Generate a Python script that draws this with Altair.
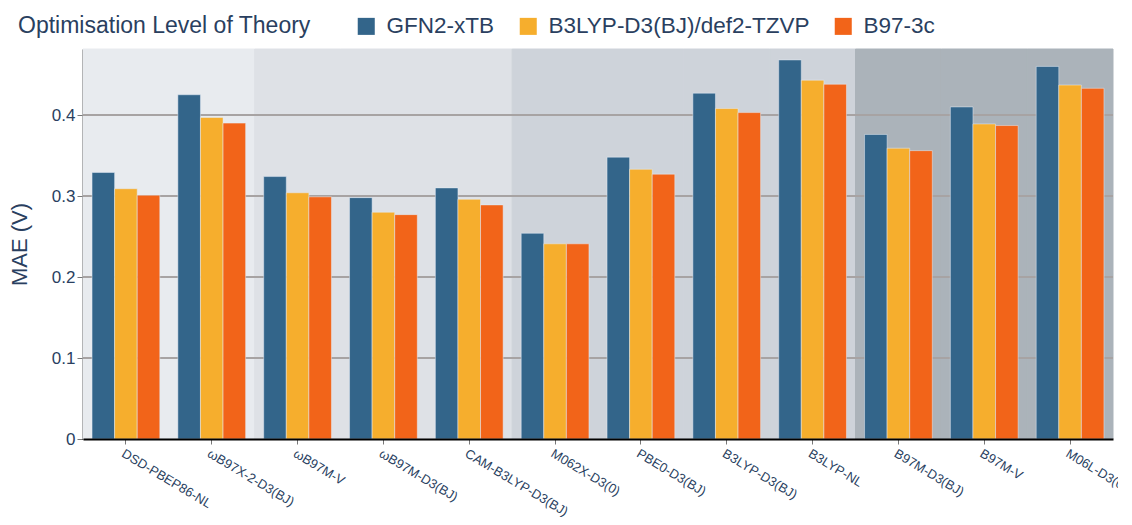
import altair as alt
import pandas as pd

categories = ["DSD-PBEP86-NL", "ωB97X-2-D3(BJ)", "ωB97M-V", "ωB97M-D3(BJ)",
              "CAM-B3LYP-D3(BJ)", "M062X-D3(0)", "PBE0-D3(BJ)", "B3LYP-D3(BJ)",
              "B3LYP-NL", "B97M-D3(BJ)", "B97M-V", "M06L-D3(0)"]
series = ["GFN2-xTB", "B3LYP-D3(BJ)/def2-TZVP", "B97-3c"]
gfn2 = [0.329, 0.425, 0.324, 0.298, 0.310, 0.254, 0.348, 0.427, 0.468, 0.376, 0.410, 0.460]
b3lyp = [0.309, 0.397, 0.304, 0.280, 0.296, 0.241, 0.333, 0.408, 0.443, 0.359, 0.389, 0.437]
b973c = [0.301, 0.390, 0.299, 0.277, 0.289, 0.241, 0.327, 0.403, 0.438, 0.356, 0.387, 0.433]
colors = ["#33658a", "#f6ae2d", "#f26419"]

# background shading group of each category
band_group = [0, 0, 1, 1, 1, 2, 2, 2, 2, 3, 3, 3]
band_colors = ["#e8ebef", "#dee1e6", "#ced3da", "#abb3ba"]
grid_values = [0.1, 0.2, 0.3, 0.4]
y_ticks = [0, 0.1, 0.2, 0.3, 0.4]
y_max = 0.4815

TEXT = "#2a3f5f"
FONT = "Liberation Sans"

rows = []
for name, vals in zip(series, [gfn2, b3lyp, b973c]):
    for c, v in zip(categories, vals):
        rows.append({"category": c, "series": name, "mae": v})
df = pd.DataFrame(rows)

bands = pd.DataFrame({"category": categories,
                      "fill": [band_colors[g] for g in band_group],
                      "top": [y_max] * len(categories),
                      "bottom": [0.0] * len(categories)})
grid = pd.DataFrame({"v": grid_values})

xscale = alt.Scale(domain=categories, paddingInner=0, paddingOuter=0)
yscale = alt.Scale(domain=[0, y_max], nice=False, zero=True)

xaxis = alt.Axis(labelAngle=31, labelAlign="left", labelBaseline="top",
                 labelFontSize=13, labelColor=TEXT, labelFont=FONT, labelLimit=400,
                 domainColor="black", domainWidth=2,
                 tickColor="#777777", tickSize=5, labelPadding=3)
yaxis = alt.Axis(values=y_ticks, format=".1~f", grid=False,
                 domainColor="black", domainWidth=2,
                 tickColor="#777777", tickSize=6,
                 labelFontSize=17, labelColor=TEXT, labelFont=FONT,
                 titleFontSize=22, titleFontWeight="normal",
                 titleColor=TEXT, titleFont=FONT, titlePadding=20)

bg = alt.Chart(bands).mark_rect(strokeWidth=1).encode(
    x=alt.X("category:N", scale=xscale, sort=categories, title=None, axis=xaxis),
    y=alt.Y("top:Q", scale=yscale, title="MAE (V)", axis=yaxis),
    y2="bottom:Q",
    fill=alt.Fill("fill:N", scale=None, legend=None),
    stroke=alt.Stroke("fill:N", scale=None, legend=None),
)

rules = alt.Chart(grid).mark_rule(color="#a7a3a3", strokeWidth=2).encode(
    y=alt.Y("v:Q", scale=yscale, title="MAE (V)", axis=yaxis)
)

bars = alt.Chart(df).mark_bar(stroke="#e5ecf6", strokeWidth=0.5).encode(
    x=alt.X("category:N", sort=categories, title=None, scale=xscale, axis=xaxis),
    xOffset=alt.XOffset("series:N", sort=series,
                        scale=alt.Scale(domain=series, paddingOuter=0.4, paddingInner=0)),
    y=alt.Y("mae:Q", scale=yscale, title="MAE (V)", axis=yaxis),
    color=alt.Color("series:N", sort=series,
                    scale=alt.Scale(domain=series, range=colors),
                    legend=alt.Legend(title="Optimisation Level of Theory",
                                      orient="none", legendX=-65, legendY=-34,
                                      direction="horizontal", titleOrient="left",
                                      titleFontSize=23, titleFontWeight="normal",
                                      titleColor=TEXT, titleFont=FONT,
                                      labelFontSize=22.5, labelColor=TEXT, labelFont=FONT,
                                      labelLimit=500, titleLimit=500,
                                      symbolType="square", symbolSize=290,
                                      symbolStrokeWidth=0, symbolOpacity=1,
                                      columnPadding=22, labelOffset=9,
                                      titlePadding=44)),
)

chart = alt.layer(bg, rules, bars).properties(
    width=1030, height=390,
    autosize=alt.AutoSizeParams(type="none"),
    padding={"left": 75, "top": 41, "right": 5, "bottom": 78},
).configure_view(stroke=None)

chart.save("out.html", embed_options={"renderer": "svg", "actions": False})
